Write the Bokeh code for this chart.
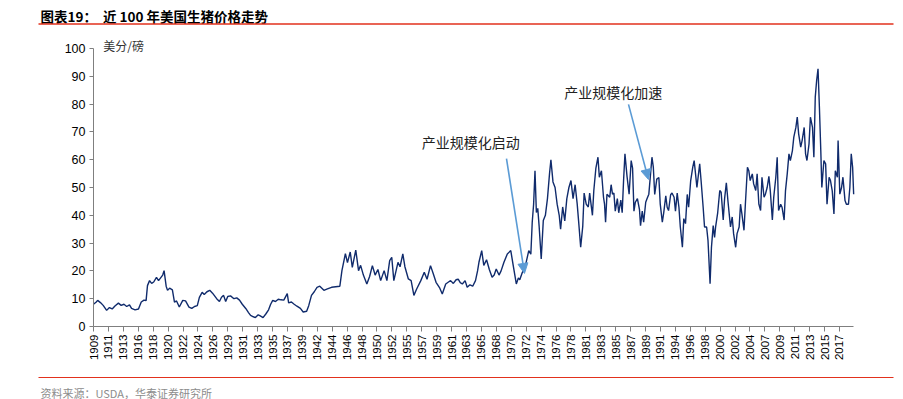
import math
from bokeh.plotting import figure
from bokeh.models import Range1d, FixedTicker, Label, Arrow, NormalHead, BoxAnnotation, LinearAxis
from bokeh.embed import file_html
from bokeh.resources import INLINE

# ---- data ----
years = [
    1909.5, 1909.9, 1910.1, 1910.5, 1910.9, 1911.4, 1911.8, 1912.2, 1912.6, 1913.1,
    1913.5, 1913.9, 1914.3, 1914.7, 1915.0, 1915.5, 1916.0, 1916.4, 1916.8, 1917.1,
    1917.3, 1917.6, 1917.9, 1918.2, 1918.6, 1918.9, 1919.2, 1919.5, 1919.7, 1920.0,
    1920.2, 1920.5, 1920.9, 1921.2, 1921.5, 1921.9, 1922.4, 1922.8, 1923.3, 1923.7,
    1924.1, 1924.5, 1924.8, 1925.2, 1925.5, 1925.9, 1926.3, 1926.7, 1927.0, 1927.3,
    1927.7, 1928.0, 1928.3, 1928.6, 1928.9, 1929.3, 1929.8, 1930.2, 1930.6, 1931.0,
    1931.5, 1931.9, 1932.2, 1932.6, 1932.9, 1933.3, 1933.6, 1934.0, 1934.4, 1934.8,
    1935.1, 1935.4, 1935.8, 1936.2, 1936.6, 1937.0, 1937.5, 1937.7, 1938.1, 1938.5,
    1938.9, 1939.4, 1939.8, 1940.3, 1940.6, 1941.0, 1941.4, 1941.8, 1942.2, 1942.8,
    1943.3, 1943.9, 1944.5, 1945.1, 1945.4, 1945.9, 1946.2, 1946.6, 1946.9, 1947.4,
    1947.8, 1948.1, 1948.5, 1949.0, 1949.4, 1949.8, 1950.2, 1950.6, 1951.0, 1951.5,
    1951.9, 1952.3, 1952.6, 1952.9, 1953.5, 1953.8, 1954.2, 1954.5, 1955.0, 1955.4,
    1955.8, 1956.2, 1956.8, 1957.3, 1957.7, 1958.2, 1958.6, 1959.0, 1959.5, 1959.9,
    1960.4, 1960.8, 1961.1, 1961.5, 1961.9, 1962.2, 1962.5, 1962.8, 1963.2, 1963.5,
    1963.9, 1964.3, 1964.7, 1965.0, 1965.2, 1965.6, 1965.9, 1966.3, 1966.7, 1967.1,
    1967.4, 1967.7, 1968.1, 1968.4, 1968.8, 1969.3, 1969.8, 1970.15, 1970.6, 1970.9,
    1971.1, 1971.45, 1971.9, 1972.4, 1972.7, 1972.9, 1973.1, 1973.3, 1973.5, 1973.7,
    1973.9, 1974.2, 1974.5, 1974.8, 1975.1, 1975.4, 1975.6, 1975.9, 1976.2, 1976.5,
    1976.8, 1977.0, 1977.3, 1977.6, 1977.9, 1978.2, 1978.5, 1978.8, 1979.1, 1979.4,
    1979.6, 1979.9, 1980.2, 1980.4, 1980.7, 1981.0, 1981.2, 1981.6, 1981.8, 1982.1,
    1982.4, 1982.6, 1982.9, 1983.2, 1983.35, 1983.5, 1983.7, 1984.1, 1984.3, 1984.5,
    1984.7, 1984.9, 1985.2, 1985.4, 1985.7, 1985.9, 1986.1, 1986.3, 1986.6, 1986.9,
    1987.2, 1987.4, 1987.6, 1987.8, 1988.1, 1988.4, 1988.55, 1988.8, 1989.0, 1989.3,
    1989.5, 1989.75, 1990.0, 1990.2, 1990.4, 1990.6, 1990.9, 1991.2, 1991.4, 1991.7,
    1991.9, 1992.2, 1992.4, 1992.6, 1992.9, 1993.1, 1993.4, 1993.6, 1993.85, 1994.1,
    1994.3, 1994.6, 1994.8, 1995.05, 1995.3, 1995.5, 1995.8, 1996.1, 1996.3, 1996.5,
    1996.7, 1997.1, 1997.3, 1997.6, 1997.8, 1998.1, 1998.3, 1998.6, 1998.8, 1999.05,
    1999.25, 1999.4, 1999.7, 2000.0, 2000.2, 2000.5, 2000.7, 2000.95, 2001.2, 2001.55,
    2001.8, 2002.0, 2002.3, 2002.5, 2002.8, 2003.0, 2003.2, 2003.5, 2003.7, 2004.0,
    2004.2, 2004.4, 2004.7, 2004.9, 2005.2, 2005.4, 2005.65, 2005.9, 2006.1, 2006.4,
    2006.6, 2006.85, 2007.1, 2007.3, 2007.6, 2007.8, 2008.1, 2008.3, 2008.5, 2008.8,
    2009.0, 2009.3, 2009.5, 2009.75, 2010.0, 2010.2, 2010.5, 2010.7, 2011.0, 2011.2,
    2011.4, 2011.7, 2011.9, 2012.2, 2012.4, 2012.6, 2012.9, 2013.1, 2013.4, 2013.6,
    2013.8, 2014.0, 2014.2, 2014.4, 2014.6, 2014.75, 2015.05, 2015.3, 2015.5, 2015.8,
    2016.0, 2016.25, 2016.5, 2016.7, 2017.0, 2017.1, 2017.35, 2017.6, 2017.8, 2018.1,
    2018.3, 2018.6, 2018.8, 2019.0, 2019.2, 2019.35,
]

price = [
    8.0, 8.8, 9.4, 8.6, 7.6, 5.8, 6.8, 6.3, 7.4, 8.4,
    7.6, 8.0, 7.2, 7.8, 6.5, 6.0, 6.3, 8.8, 9.5, 9.3,
    14.7, 16.5, 15.5, 16.0, 17.7, 16.5, 17.5, 18.5, 20.1, 14.5,
    13.0, 13.8, 13.2, 8.8, 9.2, 7.0, 9.4, 9.2, 7.0, 6.5,
    7.2, 7.5, 10.5, 12.3, 11.5, 12.5, 13.0, 12.0, 11.0, 10.0,
    9.0, 10.5, 11.2, 9.0, 10.8, 11.0, 10.0, 10.3, 9.5, 8.0,
    6.5, 5.0, 4.0, 3.5, 3.2, 4.2, 3.8, 3.2, 4.5, 6.0,
    8.0, 9.4, 9.0, 9.8, 9.6, 9.5, 11.8, 8.5, 8.8, 8.0,
    7.3, 6.5, 5.2, 5.5, 7.5, 11.2, 12.5, 14.1, 14.5, 13.0,
    13.5, 14.1, 14.3, 14.5, 20.1, 26.2, 23.0, 26.8, 21.3, 27.5,
    20.1, 22.0, 18.5, 15.3, 18.0, 21.9, 18.5, 20.5, 16.5, 20.1,
    16.5, 23.7, 24.9, 16.5, 23.1, 21.5, 26.1, 21.5, 17.1, 16.5,
    11.2, 13.5, 16.5, 19.5, 17.0, 21.9, 19.0, 15.9, 14.0, 11.7,
    15.3, 16.0, 16.5, 15.5, 16.8, 17.0, 15.8, 15.3, 16.5, 14.1,
    15.0, 14.5, 16.5, 20.0, 23.1, 27.3, 22.0, 24.0, 20.5, 17.7,
    18.5, 20.7, 18.5, 20.0, 23.0, 26.1, 27.3, 22.0, 15.3, 17.5,
    16.8, 19.3, 21.7, 27.3, 26.0, 37.5, 44.0, 56.0, 41.0, 42.5,
    36.0, 24.3, 38.1, 40.0, 46.0, 55.0, 60.0, 52.0, 50.0, 44.0,
    40.0, 35.0, 43.0, 38.0, 46.0, 50.0, 52.5, 46.0, 51.0, 44.0,
    38.0, 28.5, 36.0, 48.0, 44.0, 43.0, 48.0, 40.0, 48.9, 57.0,
    60.9, 53.7, 56.0, 46.5, 44.0, 37.5, 47.6, 46.5, 51.0, 47.6,
    48.0, 41.5, 46.0, 40.9, 45.5, 40.9, 52.5, 62.1, 54.0, 47.6,
    59.7, 57.0, 41.5, 44.7, 46.0, 42.0, 36.3, 41.5, 37.5, 44.7,
    46.0, 47.6, 54.9, 60.9, 57.3, 47.5, 53.0, 53.6, 44.0, 37.5,
    40.9, 47.0, 42.9, 41.7, 47.4, 48.0, 46.5, 41.5, 48.0, 42.9,
    35.8, 28.5, 38.8, 37.0, 47.5, 42.9, 52.5, 57.3, 59.7, 54.9,
    50.0, 58.5, 52.5, 42.9, 35.8, 35.8, 31.0, 15.4, 28.5, 36.3,
    32.0, 35.8, 40.9, 48.9, 48.3, 38.3, 46.0, 51.7, 44.7, 35.8,
    39.4, 33.4, 28.5, 33.4, 35.8, 44.0, 40.5, 34.6, 44.0, 57.3,
    56.0, 52.5, 54.9, 51.3, 48.9, 54.9, 44.0, 41.7, 53.7, 46.5,
    47.6, 50.0, 54.0, 48.9, 38.3, 46.5, 53.7, 60.9, 41.7, 44.0,
    42.9, 38.3, 48.9, 54.9, 62.1, 59.7, 63.3, 68.1, 71.6, 75.3,
    69.3, 64.5, 66.9, 71.6, 62.1, 59.7, 65.7, 75.3, 71.6, 60.9,
    82.5, 88.5, 92.7, 78.9, 63.3, 50.0, 59.7, 58.5, 44.0, 53.7,
    52.5, 48.9, 40.5, 56.0, 53.7, 66.9, 47.6, 50.0, 53.7, 45.3,
    44.0, 44.0, 50.0, 62.1, 57.3, 47.6,
]

tick_years = [
    1909, 1911, 1913, 1916, 1918, 1920, 1922, 1924, 1926, 1929,
    1931, 1933, 1935, 1937, 1939, 1942, 1944, 1946, 1948, 1950,
    1952, 1955, 1957, 1959, 1961, 1963, 1965, 1968, 1970, 1972,
    1974, 1976, 1978, 1981, 1983, 1985, 1987, 1989, 1991, 1994,
    1996, 1998, 2000, 2002, 2004, 2007, 2009, 2011, 2013, 2015,
    2017,
]
y_ticks = [0, 10, 20, 30, 40, 50, 60, 70, 80, 90, 100]

title_text = "图表19：\u00a0\u00a0近 100 年美国生猪价格走势"
unit_text = "美分/磅"
source_text = "资料来源：USDA，华泰证券研究所"
note1 = "产业规模化启动"
note2 = "产业规模化加速"

# ---- layout constants ----
W, H = 903, 399
X_START, X_END = 1909.5, 2019.35      # extent of the drawn x axis
TICK_STEP = 2.156                     # one tick every 26 months
PX_PER_YEAR = 6.92
PX_PER_UNIT = 2.78
AX_LEFT_PX, AX_BOTTOM_PX = 93, 73     # axis position inside the canvas (from left / bottom)
RED = "#E2311D"
CJK = "Noto Sans CJK SC"
AX_COL = "#7f7f7f"

x_lo = X_START - AX_LEFT_PX / PX_PER_YEAR
x_hi = X_START + (W - AX_LEFT_PX) / PX_PER_YEAR
y_lo = -AX_BOTTOM_PX / PX_PER_UNIT
y_hi = (H - AX_BOTTOM_PX) / PX_PER_UNIT

tick_pos = [round(X_START + i * TICK_STEP, 4) for i in range(len(tick_years))]

p = figure(width=W, height=H, output_backend="svg", toolbar_location=None,
           x_range=Range1d(x_lo, x_hi), y_range=Range1d(y_lo, y_hi),
           x_axis_type=None, y_axis_type=None,
           min_border_left=0, min_border_right=0, min_border_top=0, min_border_bottom=0)
p.outline_line_color = None
p.grid.visible = False
p.background_fill_color = "white"
p.border_fill_color = "white"

p.line(years, price, line_color="#102B6C", line_width=1.4)

# x axis, drawn at y = 0
xax = LinearAxis(fixed_location=0, bounds=(X_START, X_END))
xax.ticker = FixedTicker(ticks=tick_pos, minor_ticks=[])
xax.major_label_overrides = {tp: str(y) for tp, y in zip(tick_pos, tick_years)}
xax.major_label_orientation = math.pi / 2
xax.axis_line_color = AX_COL
xax.major_tick_line_color = AX_COL
xax.major_tick_in = 0
xax.major_tick_out = 5
xax.minor_tick_line_color = None
xax.major_label_standoff = 3
xax.major_label_text_font = "Liberation Sans"
xax.major_label_text_font_size = "11.5px"
xax.major_label_text_color = "#000000"
p.add_layout(xax, "below")

# y axis, drawn at the first month
yax = LinearAxis(fixed_location=X_START, bounds=(0, 100))
yax.ticker = FixedTicker(ticks=y_ticks, minor_ticks=[])
yax.axis_line_color = AX_COL
yax.major_tick_line_color = AX_COL
yax.major_tick_in = 0
yax.major_tick_out = 4
yax.minor_tick_line_color = None
yax.major_label_standoff = 4
yax.major_label_text_font = "Liberation Sans"
yax.major_label_text_font_size = "12.5px"
yax.major_label_text_color = "#000000"
p.add_layout(yax, "left")

# ---- header / footer (screen units: from canvas left / bottom) ----
p.add_layout(Label(x=40, y=384, x_units="screen", y_units="screen", text=title_text,
                   text_font=CJK, text_font_size="13.5px", text_font_style="bold",
                   text_baseline="middle", text_color="#000000"))
p.add_layout(BoxAnnotation(left=38, right=893, bottom=374.8, top=376.2,
                           left_units="screen", right_units="screen",
                           bottom_units="screen", top_units="screen",
                           fill_color=RED, fill_alpha=1.0, line_color=None))
p.add_layout(BoxAnnotation(left=38, right=893, bottom=21.5, top=22.5,
                           left_units="screen", right_units="screen",
                           bottom_units="screen", top_units="screen",
                           fill_color=RED, fill_alpha=1.0, line_color=None))
p.add_layout(Label(x=40, y=7, x_units="screen", y_units="screen", text=source_text,
                   text_font=CJK, text_font_size="11px",
                   text_baseline="middle", text_color="#8c8c8c"))

# ---- annotations ----
p.add_layout(Label(x=1910.9, y=101.2, text=unit_text, text_font=CJK,
                   text_font_size="12px", text_baseline="middle", text_color="#333333"))
p.add_layout(Label(x=1964.0, y=66.2, text=note1, text_font=CJK,
                   text_font_size="14px", text_align="center", text_baseline="middle",
                   text_color="#222222"))
p.add_layout(Label(x=1984.6, y=84.5, text=note2, text_font=CJK,
                   text_font_size="14px", text_align="center", text_baseline="middle",
                   text_color="#222222"))

ARROW_COL = "#5B9BD5"
p.add_layout(Arrow(x_start=1969.18, y_start=60.4, x_end=1971.78, y_end=19.1,
                   line_color=ARROW_COL, line_width=1.6,
                   end=NormalHead(size=10, fill_color=ARROW_COL, line_color=ARROW_COL)))
p.add_layout(Arrow(x_start=1986.81, y_start=79.9, x_end=1989.70, y_end=52.9,
                   line_color=ARROW_COL, line_width=1.6,
                   end=NormalHead(size=10, fill_color=ARROW_COL, line_color=ARROW_COL)))

open("out.html", "w").write(file_html(p, INLINE))
